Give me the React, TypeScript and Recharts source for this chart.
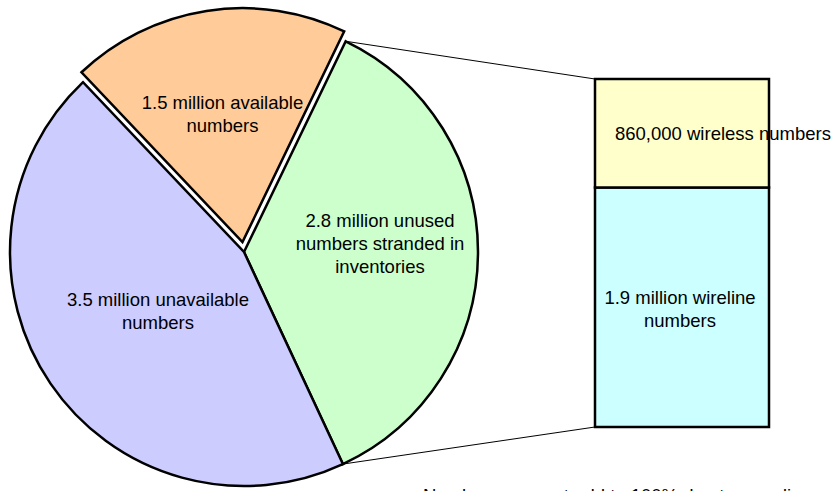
import { PieChart, Pie, Cell, BarChart, Bar, XAxis, YAxis, LabelList } from 'recharts';

// pie: unused numbers is the slice that gets broken out into the bar
const SLICE_NAMES = ['unused', 'available', 'unavailable'];
const SLICE_VALUES = [2.8, 1.5, 3.5];
const SLICE_LINES = [
  ['2.8 million unused', 'numbers stranded in', 'inventories'],
  ['1.5 million available', 'numbers'],
  ['3.5 million unavailable', 'numbers'],
];
const SLICE_COLORS = ['#CCFFCC', '#FFCC99', '#CCCCFF'];

// bar: breakdown of the stranded numbers
const BAR_CATEGORY = ['unused'];
const WIRELINE = [1.9];
const WIRELESS = [0.86];
const WIRELINE_LINES = ['1.9 million wireline', 'numbers'];
const WIRELESS_LABEL = '860,000 wireless numbers';

const NOTE = 'Numbers may not add to 100% due to rounding';

const W = 838;
const H = 491;
const CX = 244;
const CY = 252;
const R = 234;
const START = -65;
const EXPLODED = 1;
const EXPLODE_BY = 10;
const BAR_LEFT = 595;
const BAR_RIGHT = 769;
const BAR_TOP = 79;
const BAR_BOTTOM = 427;
const FONT = '"Liberation Sans", Arial, sans-serif';
const FS = 18.5;
const LH = 23;
const SW = 2.5;
const RAD = Math.PI / 180;

// where each slice label sits: distance from centre along the mid angle, plus a nudge
const LABEL_R = [136, 130, 104];
const LABEL_DY = [-10, 0, 0];

const pieData = SLICE_NAMES.map((name, i) => ({ name, value: SLICE_VALUES[i] }));
const barData = BAR_CATEGORY.map((name, i) => ({ name, wireline: WIRELINE[i], wireless: WIRELESS[i] }));

const total = SLICE_VALUES.reduce((a, b) => a + b, 0);
const angleAt = (i: number) => START + (360 * SLICE_VALUES.slice(0, i).reduce((a, b) => a + b, 0)) / total;
const explodeMid = (angleAt(EXPLODED) + angleAt(EXPLODED + 1)) / 2;
const ox = EXPLODE_BY * Math.cos(explodeMid * RAD);
const oy = -EXPLODE_BY * Math.sin(explodeMid * RAD);
const pt = (a: number) => [CX + R * Math.cos(a * RAD), CY - R * Math.sin(a * RAD)];

function Lines({ x, y, lines, anchor = 'middle' }: { x: number; y: number; lines: string[]; anchor?: string }) {
  const y0 = y - ((lines.length - 1) * LH) / 2;
  return (
    <text x={x} textAnchor={anchor} fontFamily={FONT} fontSize={FS} fill="#000" dominantBaseline="central">
      {lines.map((l, i) => (
        <tspan key={i} x={x} y={y0 + i * LH}>{l}</tspan>
      ))}
    </text>
  );
}

const sliceLabel = (show: (i: number) => boolean) => (p: any) => {
  if (!show(p.index)) return null;
  const r = LABEL_R[p.index];
  const x = p.cx + r * Math.cos(p.midAngle * RAD);
  const y = p.cy - r * Math.sin(p.midAngle * RAD) + LABEL_DY[p.index];
  return <Lines x={x} y={y} lines={SLICE_LINES[p.index]} />;
};

export default function App() {
  const [gx0, gy0] = pt(angleAt(0));
  const [gx1, gy1] = pt(angleAt(1));
  return (
    <div style={{ position: 'relative', width: W, height: H, overflow: 'hidden', background: '#fff' }}>
      <style>{'body{margin:0}'}</style>

      <div style={{ position: 'absolute', left: 0, top: 0 }}>
        <BarChart width={W} height={H} data={barData} barCategoryGap={0}
          margin={{ top: BAR_TOP, right: W - BAR_RIGHT, bottom: H - BAR_BOTTOM, left: BAR_LEFT }}>
          <XAxis dataKey="name" hide />
          <YAxis hide domain={[0, 'dataMax']} />
          <Bar dataKey="wireline" stackId="s" fill="#CCFFFF" stroke="#000" strokeWidth={SW} isAnimationActive={false}>
            <LabelList dataKey="wireline" content={(p: any) => (
              <Lines x={p.x + p.width / 2 - 2} y={p.y + p.height / 2 + 1} lines={WIRELINE_LINES} />
            )} />
          </Bar>
          <Bar dataKey="wireless" stackId="s" fill="#FFFFCC" stroke="#000" strokeWidth={SW} isAnimationActive={false}>
            <LabelList dataKey="wireless" content={(p: any) => (
              <Lines x={p.x + 20} y={p.y + p.height / 2} lines={[WIRELESS_LABEL]} anchor="start" />
            )} />
          </Bar>
        </BarChart>
      </div>

      <div style={{ position: 'absolute', left: 0, top: 0 }}>
        <PieChart width={W} height={H} margin={{ top: 0, right: 0, bottom: 0, left: 0 }}>
          <Pie data={pieData} dataKey="value" cx={CX} cy={CY} outerRadius={R}
            startAngle={START} endAngle={START + 360} stroke="#000" strokeWidth={SW}
            labelLine={false} label={sliceLabel((i) => i !== EXPLODED)} isAnimationActive={false}>
            {pieData.map((_, i) => (
              <Cell key={i} fill={i === EXPLODED ? 'none' : SLICE_COLORS[i]} stroke={i === EXPLODED ? 'none' : '#000'} />
            ))}
          </Pie>
          <Pie data={pieData} dataKey="value" cx={CX + ox} cy={CY + oy} outerRadius={R}
            startAngle={START} endAngle={START + 360} stroke="#000" strokeWidth={SW}
            labelLine={false} label={sliceLabel((i) => i === EXPLODED)} isAnimationActive={false}>
            {pieData.map((_, i) => (
              <Cell key={i} fill={i === EXPLODED ? SLICE_COLORS[i] : 'none'} stroke={i === EXPLODED ? '#000' : 'none'} />
            ))}
          </Pie>
        </PieChart>
      </div>

      <svg width={W} height={H} style={{ position: 'absolute', left: 0, top: 0, pointerEvents: 'none' }}>
        <line x1={gx1} y1={gy1} x2={BAR_LEFT} y2={BAR_TOP} stroke="#000" strokeWidth={1} />
        <line x1={gx0} y1={gy0} x2={BAR_LEFT} y2={BAR_BOTTOM} stroke="#000" strokeWidth={1} />
        <text x={423} y={502} fontFamily={FONT} fontSize={FS} fill="#000">{NOTE}</text>
      </svg>
    </div>
  );
}
